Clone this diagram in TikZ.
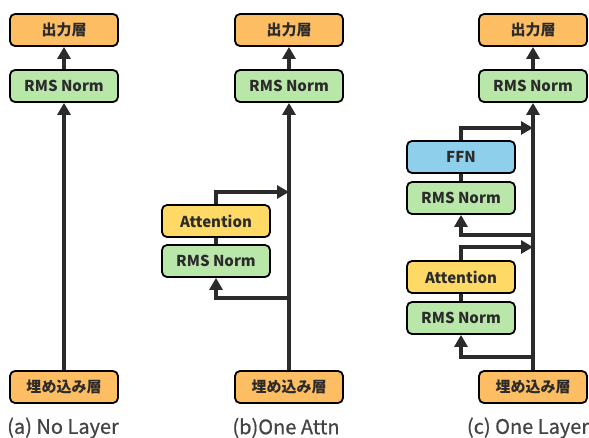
\documentclass[tikz,border=0pt]{standalone}
\usepackage{fontspec}
\setmainfont{Noto Sans CJK JP}
\newfontfamily\capfont{Noto Sans CJK JP}[FakeBold=0.6]
\usetikzlibrary{arrows.meta, positioning}
\definecolor{boxorange}{HTML}{FDBD63}
\definecolor{boxgreen}{HTML}{B9E6A9}
\definecolor{boxyellow}{HTML}{FFD966}
\definecolor{boxblue}{HTML}{8ECFEB}
\definecolor{inkdark}{HTML}{2B2B2B}
\definecolor{captiongray}{HTML}{444444}

\begin{document}
\begin{tikzpicture}[x=1pt, y=-1pt,
  layer/.style={rectangle, draw=black, line width=1.8pt, minimum width=108pt, minimum height=32pt,
    text centered, rounded corners=5pt, font=\fontsize{15}{17}\selectfont\bfseries, text=inkdark},
  outbox/.style={layer, fill=boxorange},
  normbox/.style={layer, fill=boxgreen},
  attnbox/.style={layer, fill=boxyellow},
  ffnbox/.style={layer, fill=boxblue},
  arrow/.style={-{Triangle[length=12pt, width=13pt]}, line width=3.5pt, draw=inkdark},
  link/.style={line width=3.5pt, draw=inkdark},
  caption/.style={font=\capfont\fontsize{20}{23}\selectfont, text=captiongray}
]
\useasboundingbox (0,0) rectangle (589,437);

% (a) no layer
\node (out1) [outbox] at (64,30) {出力層};
\node (rms1) [normbox] at (64,86) {RMS Norm};
\node (emb1) [outbox] at (64,387) {埋め込み層};
\draw [arrow] (emb1) -- (rms1);
\draw [arrow] (rms1) -- (out1);
\node (cap1) [caption] at (63,428) {(a) No Layer};

% (b) one attention block
\node (out2) [outbox] at (289,30) {出力層};
\node (rms2) [normbox] at (289,86) {RMS Norm};
\node (emb2) [outbox] at (289,387) {埋め込み層};
\node (pre2) [normbox] at (216,261) {RMS Norm};
\node (attn2) [attnbox] at (216,221) {Attention};
\coordinate (split2) at (289,298);
\coordinate (join2) at (289,192);
\draw [arrow] (emb2) -- (rms2);
\draw [arrow] (rms2) -- (out2);
\draw [arrow] (split2) -| (pre2);
\draw [link] (pre2) -- (attn2);
\draw [arrow] (attn2) |- (join2);
\node (cap2) [caption] at (286,428) {(b)One Attn};

% (c) one full layer
\node (out3) [outbox] at (533,30) {出力層};
\node (rms3) [normbox] at (533,86) {RMS Norm};
\node (emb3) [outbox] at (533,387) {埋め込み層};
\node (prea3) [normbox] at (461,318) {RMS Norm};
\node (attn3) [attnbox] at (461,277) {Attention};
\node (pref3) [normbox] at (461,198) {RMS Norm};
\node (ffn3) [ffnbox] at (461,157) {FFN};
\coordinate (splita3) at (533,357);
\coordinate (joina3) at (533,247);
\coordinate (splitf3) at (533,235);
\coordinate (joinf3) at (533,128);
\draw [arrow] (emb3) -- (rms3);
\draw [arrow] (rms3) -- (out3);
\draw [arrow] (splita3) -| (prea3);
\draw [link] (prea3) -- (attn3);
\draw [arrow] (attn3) |- (joina3);
\draw [arrow] (splitf3) -| (pref3);
\draw [link] (pref3) -- (ffn3);
\draw [arrow] (ffn3) |- (joinf3);
\node (cap3) [caption] at (528,428) {(c) One Layer};

\end{tikzpicture}
\end{document}
